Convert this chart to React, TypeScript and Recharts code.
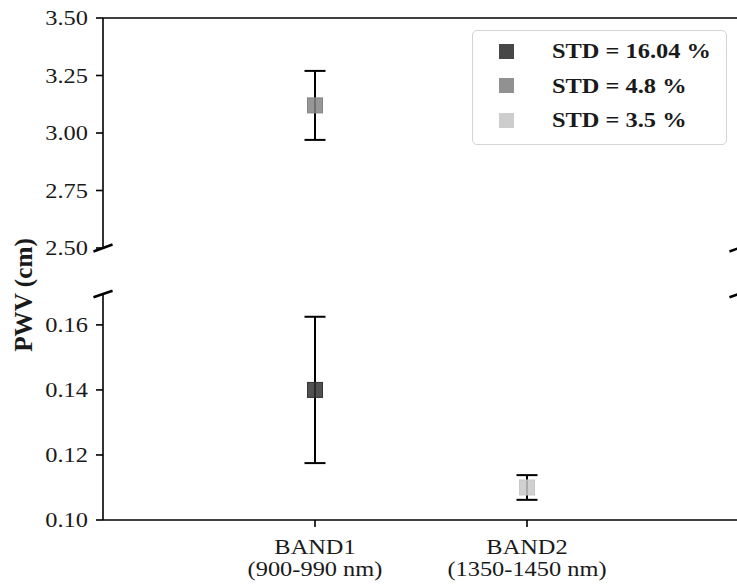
import React from 'react';
import { ScatterChart, Scatter, XAxis, YAxis, ErrorBar, ReferenceLine } from 'recharts';

// categories on the x axis
const bands = ['BAND1', 'BAND2'];
const bandRanges = ['(900-990 nm)', '(1350-1450 nm)'];

// one point per series
const seriesNames = ['STD = 16.04 %', 'STD = 4.8 %', 'STD = 3.5 %'];
const seriesBand = ['BAND1', 'BAND1', 'BAND2'];
const pwvMean = [0.14, 3.12, 0.11];
const pwvErr = [0.0225, 0.15, 0.0038];

// broken y axis
const topTicks = [2.5, 2.75, 3.0, 3.25, 3.5];
const bottomTicks = [0.1, 0.12, 0.14, 0.16];

const colors = ['#333333', '#858585', '#c8c8c8'];
const FONT = '"Liberation Serif", "Times New Roman", serif';
const INK = '#1a1a1a';
const STRETCH = 1.22;

const points = pwvMean.map((y, i) => ({ x: bands.indexOf(seriesBand[i]) + 1, y, err: pwvErr[i] }));
const breakAt = 2.5;

const YTick = (props: any) => {
  const { x, y, payload } = props;
  return (
    <g transform={`translate(${x},${y})`}>
      <text transform={`scale(${STRETCH},1)`} textAnchor="end" dy="0.35em" fontSize={20} fontFamily={FONT} fill={INK}>
        {Number(payload.value).toFixed(2)}
      </text>
    </g>
  );
};

const XTick = (props: any) => {
  const { x, y, payload } = props;
  const i = payload.value - 1;
  return (
    <g transform={`translate(${x},${y})`}>
      <text transform={`scale(${STRETCH},1)`} textAnchor="middle" fontSize={20} fontFamily={FONT} fill={INK}>
        <tspan x={0} dy={27}>{bands[i]}</tspan>
        <tspan x={0} dy={22}>{bandRanges[i]}</tspan>
      </text>
    </g>
  );
};

const Square = (color: string) => (props: any) => {
  const { cx, cy } = props;
  if (cx == null || cy == null) return null;
  return <rect x={cx - 7.5} y={cy - 7.5} width={15} height={15} fill={color} fillOpacity={0.85} stroke={color} strokeOpacity={1} />;
};

const breakMark = (x: number, y: number, dx: number, dy: number, key: string) => (
  <ReferenceLine
    key={key}
    segment={[{ x: x - dx, y: y - dy }, { x: x + dx, y: y + dy }]}
    stroke="#000"
    strokeWidth={2.5}
    ifOverflow="visible"
  />
);

const series = (filter: (y: number) => boolean) =>
  points.map((p, i) => (
    <Scatter
      key={seriesNames[i]}
      name={seriesNames[i]}
      data={filter(p.y) ? [p] : []}
      shape={Square(colors[i])}
      isAnimationActive={false}
    >
      <ErrorBar dataKey="err" direction="y" width={10.5} stroke="#000" strokeWidth={2} />
    </Scatter>
  ));

const axisLine = { stroke: '#000', strokeWidth: 1.6 };

export default function App() {
  return (
    <div style={{ position: 'fixed', left: 0, top: 0, width: 737, height: 587, overflow: 'hidden', background: '#fff' }}>
      <div style={{ position: 'absolute', left: 0, top: 0 }}>
        <ScatterChart width={744} height={264} margin={{ top: 18, right: 5, bottom: 16, left: 0 }}>
          <XAxis type="number" dataKey="x" domain={[0, 3]} hide allowDataOverflow />
          <YAxis
            type="number"
            dataKey="y"
            domain={[2.5, 3.5]}
            ticks={topTicks}
            interval={0}
            allowDataOverflow
            width={103}
            tickSize={7}
            tickMargin={8}
            axisLine={axisLine}
            tickLine={axisLine}
            tick={<YTick />}
          />
          <ReferenceLine y={3.5} stroke="#000" strokeWidth={1.6} ifOverflow="visible" />
          <ReferenceLine x={3} stroke="#000" strokeWidth={1.6} ifOverflow="visible" />
          {series((y) => y >= breakAt)}
          {breakMark(0, 2.5, 0.045, 0.015, 'tl')}
          {breakMark(3, 2.5, 0.045, 0.015, 'tr')}
        </ScatterChart>
      </div>
      <div style={{ position: 'absolute', left: 0, top: 280 }}>
        <ScatterChart width={744} height={307} margin={{ top: 14, right: 5, bottom: 0, left: 0 }}>
          <XAxis
            type="number"
            dataKey="x"
            domain={[0, 3]}
            ticks={[1, 2]}
            interval={0}
            allowDataOverflow
            height={67}
            tickSize={7}
            tickMargin={0}
            axisLine={axisLine}
            tickLine={axisLine}
            tick={<XTick />}
          />
          <YAxis
            type="number"
            dataKey="y"
            domain={[0.1, 0.1695]}
            ticks={bottomTicks}
            interval={0}
            allowDataOverflow
            width={103}
            tickSize={7}
            tickMargin={8}
            axisLine={axisLine}
            tickLine={axisLine}
            tick={<YTick />}
          />
          <ReferenceLine x={3} stroke="#000" strokeWidth={1.6} ifOverflow="visible" />
          {series((y) => y < breakAt)}
          {breakMark(0, 0.1695, 0.045, 0.001, 'bl')}
          {breakMark(3, 0.1695, 0.045, 0.001, 'br')}
        </ScatterChart>
      </div>
      <svg style={{ position: 'absolute', left: 0, top: 0 }} width={60} height={587}>
        <text
          transform={`translate(32,295) rotate(-90) scale(1.26,${STRETCH})`}
          textAnchor="middle"
          fontSize={20}
          fontWeight="bold"
          fontFamily={FONT}
          fill={INK}
        >
          PWV (cm)
        </text>
      </svg>
      <div
        style={{
          position: 'absolute',
          left: 472,
          top: 30,
          width: 253,
          height: 113,
          border: '1px solid #d4d4d4',
          borderRadius: 5,
          background: 'rgba(255,255,255,0.8)',
        }}
      >
        {seriesNames.map((name, i) => (
          <div key={name} style={{ position: 'absolute', left: 0, top: 8 + i * 34.5, height: 24, width: '100%' }}>
            <div
              style={{
                position: 'absolute',
                left: 26,
                top: 4.5,
                width: 15,
                height: 15,
                background: colors[i],
                opacity: 0.9,
              }}
            />
            <span
              style={{
                position: 'absolute',
                left: 79,
                top: 0,
                fontFamily: FONT,
                fontWeight: 'bold',
                fontSize: 20,
                lineHeight: '24px',
                color: INK,
                whiteSpace: 'nowrap',
                transform: `scaleX(${STRETCH})`,
                transformOrigin: 'left center',
              }}
            >
              {name}
            </span>
          </div>
        ))}
      </div>
    </div>
  );
}
